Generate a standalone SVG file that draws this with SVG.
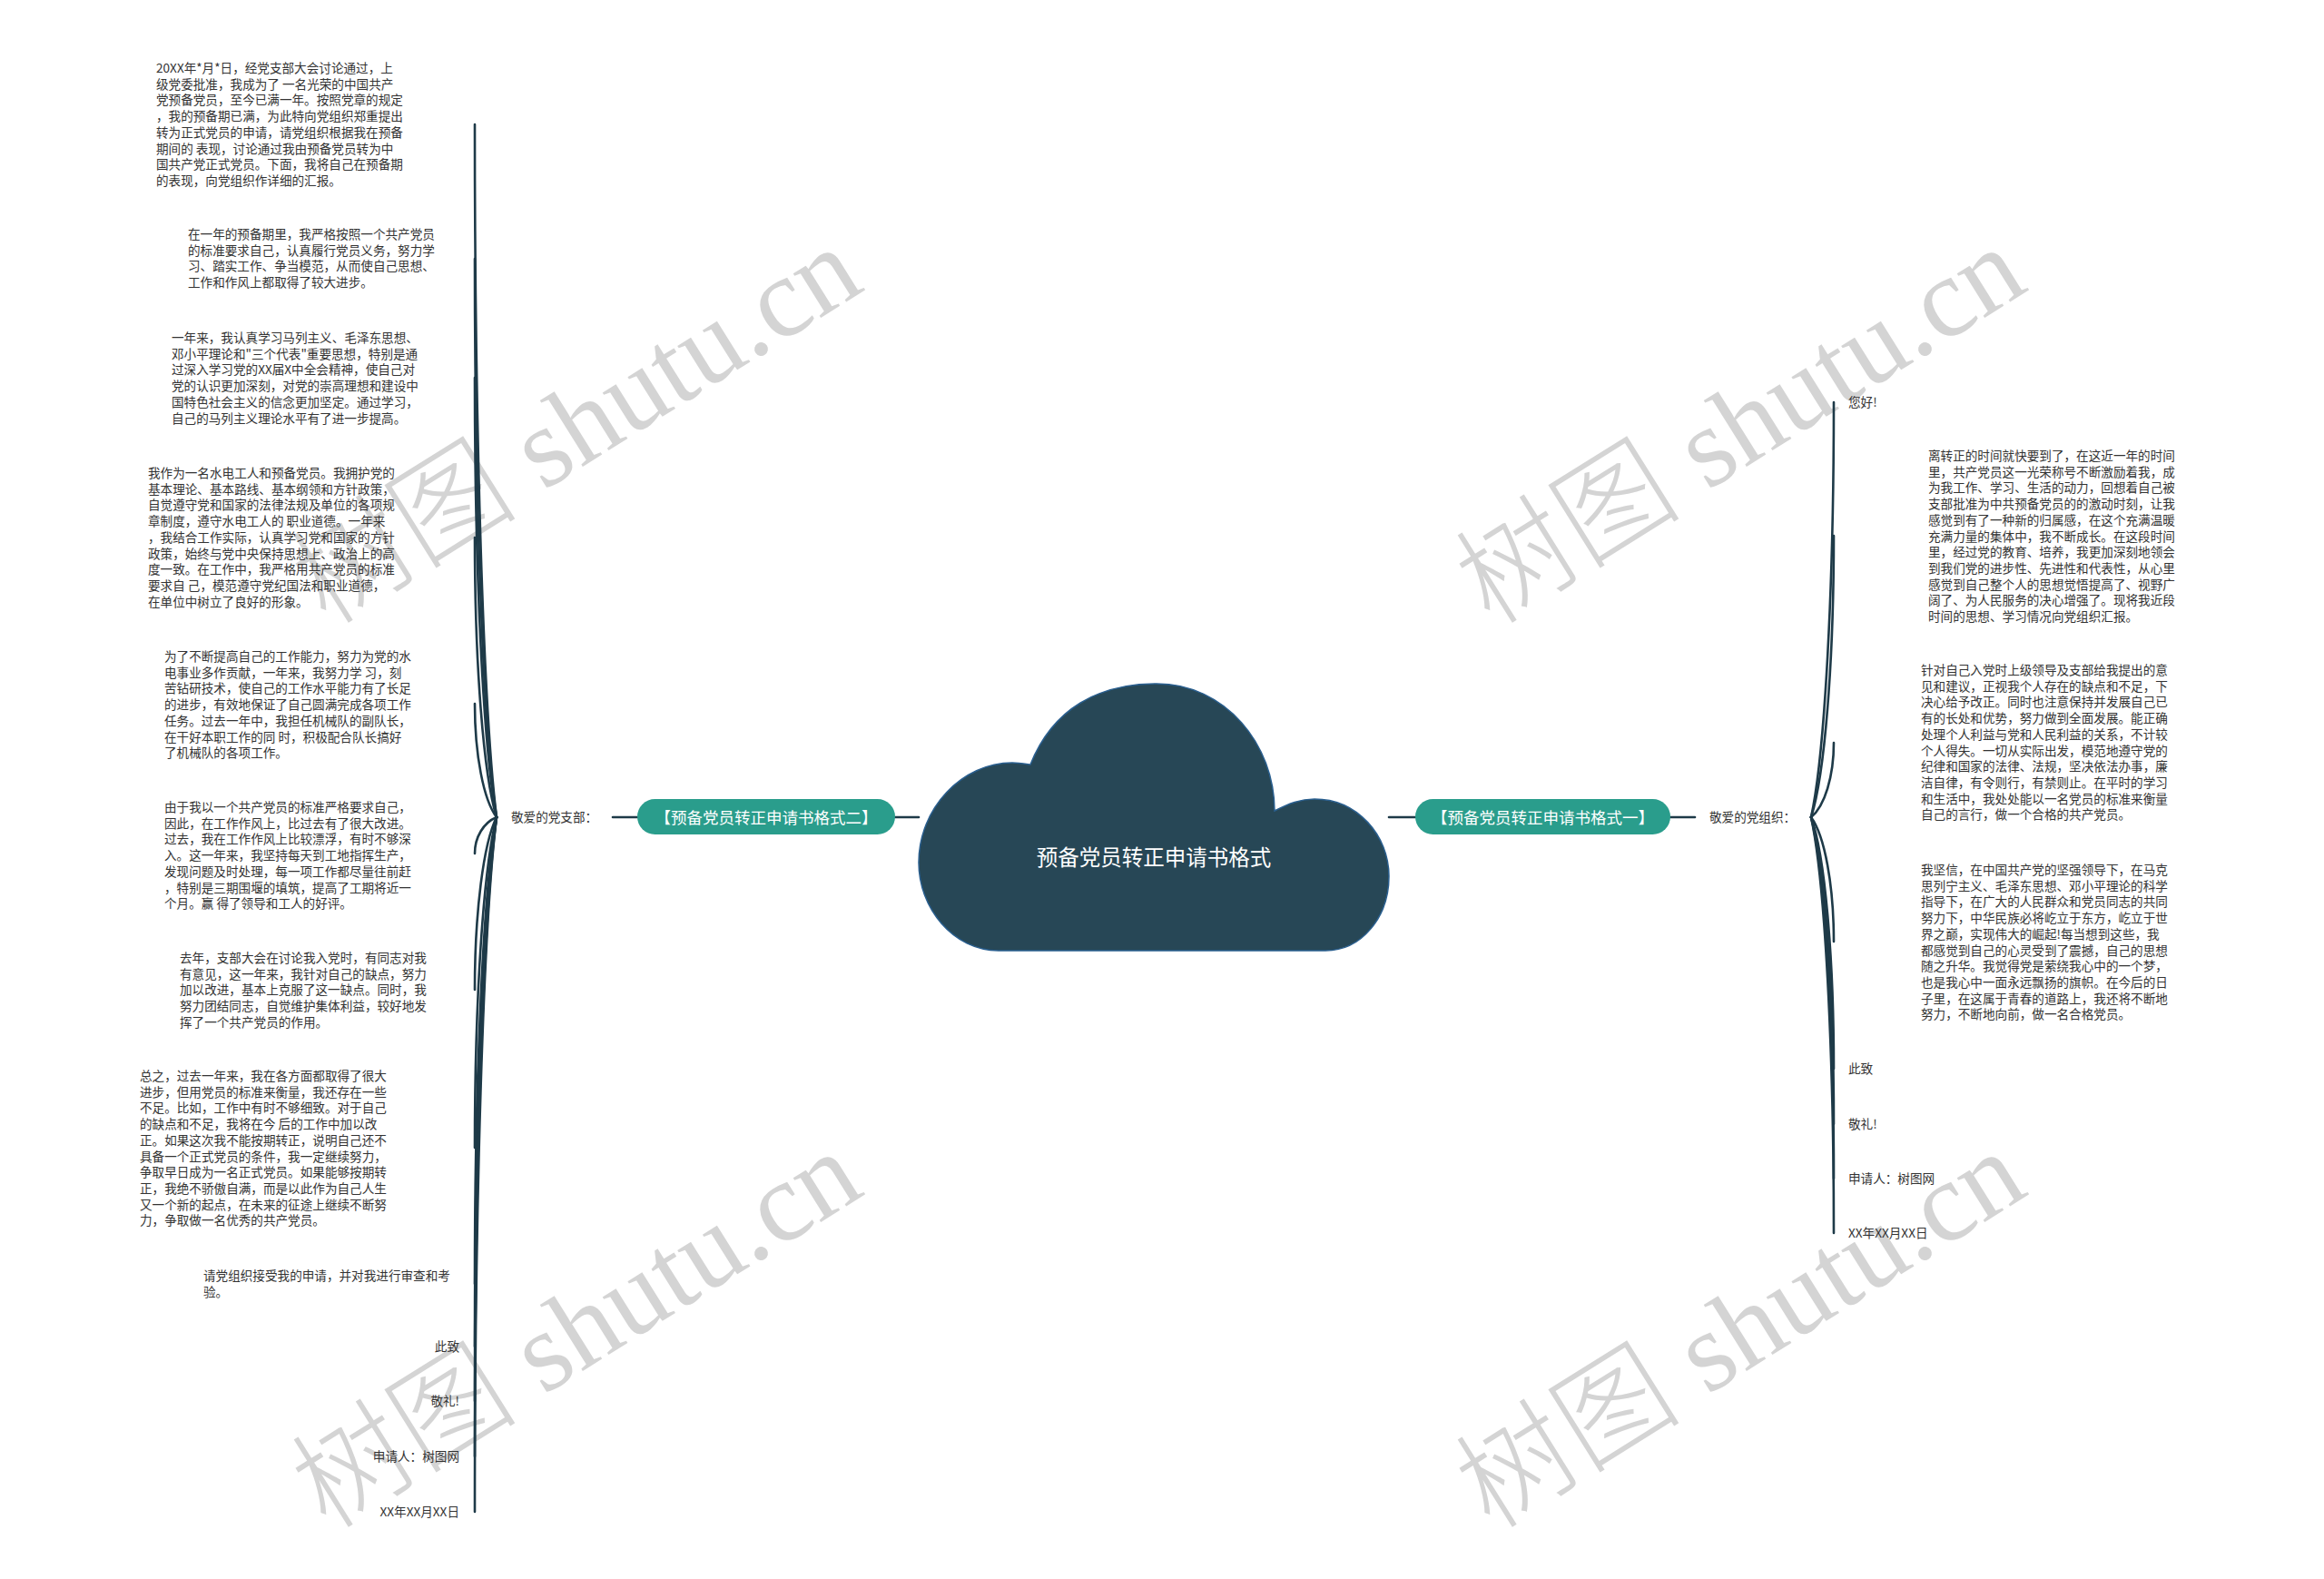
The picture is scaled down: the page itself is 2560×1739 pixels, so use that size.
<svg xmlns="http://www.w3.org/2000/svg" width="2560" height="1739" viewBox="0 0 2560 1739">
<style>
.t{font-family:"Noto Sans CJK SC","Noto Sans",sans-serif;font-size:13.6px;fill:#333333}
.r{text-anchor:end}
.pill{fill:#2a9d8c}
.pt{font-family:"Noto Sans CJK SC","Noto Sans",sans-serif;font-size:17.5px;fill:#ffffff;text-anchor:middle}
.ct{font-family:"Noto Sans CJK SC","Noto Sans",sans-serif;font-size:23.5px;fill:#ffffff;text-anchor:middle}
.c{fill:none;stroke:#1e3a48;stroke-width:2.6;stroke-linecap:round}
.wm{font-size:125px;fill:#d4d4d4}
.wc{font-family:"Noto Sans CJK SC",sans-serif;font-weight:300}
.ws{font-family:"Liberation Serif",serif}
</style>
<rect width="2560" height="1739" fill="#ffffff"/>
<g id="watermarks">
<text class="wm" transform="translate(360,690) rotate(-32)"><tspan class="wc">树图</tspan><tspan class="ws"> shutu.cn</tspan></text>
<text class="wm" transform="translate(1642,690) rotate(-32)"><tspan class="wc">树图</tspan><tspan class="ws"> shutu.cn</tspan></text>
<text class="wm" transform="translate(360,1686) rotate(-32)"><tspan class="wc">树图</tspan><tspan class="ws"> shutu.cn</tspan></text>
<text class="wm" transform="translate(1642,1686) rotate(-32)"><tspan class="wc">树图</tspan><tspan class="ws"> shutu.cn</tspan></text>
</g>
<g id="connectors">
<line class="c" x1="986" y1="900" x2="1012" y2="900"/>
<line class="c" x1="675" y1="900" x2="702" y2="900"/>
<line class="c" x1="1530" y1="900" x2="1559" y2="900"/>
<line class="c" x1="1840" y1="900" x2="1867" y2="900"/>
<path class="c" d="M547 900 C532.6 785.5 523 480 523 137"/>
<path class="c" d="M547 900 C532.6 808 523 562 523 285"/>
<path class="c" d="M547 900 C532.6 827 523 634 523 416"/>
<path class="c" d="M547 900 C532.6 854 523 731 523 592"/>
<path class="c" d="M547 900 C532.6 881 523 831 523 775"/>
<path class="c" d="M547 900 C532.6 906 523 922 523 940"/>
<path class="c" d="M547 900 C532.6 928.5 523 1004.5 523 1090"/>
<path class="c" d="M547 900 C532.6 954.6 523 1100 523 1264"/>
<path class="c" d="M547 900 C532.6 977 523 1183 523 1414"/>
<path class="c" d="M547 900 C532.6 987 523 1221 523 1483"/>
<path class="c" d="M547 900 C532.6 996 523 1254 523 1543"/>
<path class="c" d="M547 900 C532.6 1005.6 523 1287 523 1604"/>
<path class="c" d="M547 900 C532.6 1014.8 523 1321 523 1665"/>
<path class="c" d="M1995 900 C2010 831.5 2020 649 2020 443"/>
<path class="c" d="M1995 900 C2010 853.5 2020 729.5 2020 590"/>
<path class="c" d="M1995 900 C2010 887.7 2020 855 2020 818"/>
<path class="c" d="M1995 900 C2010 920.5 2020 975 2020 1037"/>
<path class="c" d="M1995 900 C2010 941.5 2020 1052 2020 1177"/>
<path class="c" d="M1995 900 C2010 950.7 2020 1086 2020 1238"/>
<path class="c" d="M1995 900 C2010 959.7 2020 1119 2020 1298"/>
<path class="c" d="M1995 900 C2010 968.7 2020 1152 2020 1358"/>
</g>
<g id="root">
<path d="M1135 842 C1160 780 1210 753 1274 753 C1350 753 1404 820 1404 893 C1420 885 1432 880 1448 880 C1495 880 1530 920 1530 965 C1530 1010 1500 1047 1460 1047 L1100 1047 C1050 1047 1012 1000 1012 950 C1012 890 1060 840 1115 840 C1122 840 1128 841 1135 842 Z" fill="#274756" stroke="#2a5f8f" stroke-width="1.5"/>
<text class="ct" x="1271" y="953">预备党员转正申请书格式</text>
</g>
<g id="branch-left">
<rect class="pill" x="702" y="880" width="284" height="39" rx="19.5"/>
<text class="pt" x="844" y="906.5">【预备党员转正申请书格式二】</text>
</g>
<g id="branch-right">
<rect class="pill" x="1559" y="880" width="281" height="39" rx="19.5"/>
<text class="pt" x="1699.5" y="906.5">【预备党员转正申请书格式一】</text>
</g>
<g id="label-left"><text class="t" x="563" y="905">敬爱的党支部：</text></g>
<g id="label-right"><text class="t" x="1883" y="905">敬爱的党组织：</text></g>
<g id="leaf-l1"><text class="t" x="172" y="80">
<tspan x="172">20XX年*月*日，经党支部大会讨论通过，上</tspan>
<tspan x="172" dy="17.7">级党委批准，我成为了 一名光荣的中国共产</tspan>
<tspan x="172" dy="17.7">党预备党员，至今已满一年。按照党章的规定</tspan>
<tspan x="172" dy="17.7">，我的预备期已满，为此特向党组织郑重提出</tspan>
<tspan x="172" dy="17.7">转为正式党员的申请，请党组织根据我在预备</tspan>
<tspan x="172" dy="17.7">期间的 表现，讨论通过我由预备党员转为中</tspan>
<tspan x="172" dy="17.7">国共产党正式党员。下面，我将自己在预备期</tspan>
<tspan x="172" dy="17.7">的表现，向党组织作详细的汇报。</tspan>
</text></g>
<g id="leaf-l2"><text class="t" x="207" y="263">
<tspan x="207">在一年的预备期里，我严格按照一个共产党员</tspan>
<tspan x="207" dy="17.7">的标准要求自己，认真履行党员义务，努力学</tspan>
<tspan x="207" dy="17.7">习、踏实工作、争当模范，从而使自己思想、</tspan>
<tspan x="207" dy="17.7">工作和作风上都取得了较大进步。</tspan>
</text></g>
<g id="leaf-l3"><text class="t" x="189" y="377">
<tspan x="189">一年来，我认真学习马列主义、毛泽东思想、</tspan>
<tspan x="189" dy="17.7">邓小平理论和"三个代表"重要思想，特别是通</tspan>
<tspan x="189" dy="17.7">过深入学习党的XX届X中全会精神，使自己对</tspan>
<tspan x="189" dy="17.7">党的认识更加深刻，对党的崇高理想和建设中</tspan>
<tspan x="189" dy="17.7">国特色社会主义的信念更加坚定。通过学习，</tspan>
<tspan x="189" dy="17.7">自己的马列主义理论水平有了进一步提高。</tspan>
</text></g>
<g id="leaf-l4"><text class="t" x="163" y="526">
<tspan x="163">我作为一名水电工人和预备党员。我拥护党的</tspan>
<tspan x="163" dy="17.7">基本理论、基本路线、基本纲领和方针政策，</tspan>
<tspan x="163" dy="17.7">自觉遵守党和国家的法律法规及单位的各项规</tspan>
<tspan x="163" dy="17.7">章制度，遵守水电工人的 职业道德。一年来</tspan>
<tspan x="163" dy="17.7">，我结合工作实际，认真学习党和国家的方针</tspan>
<tspan x="163" dy="17.7">政策，始终与党中央保持思想上、政治上的高</tspan>
<tspan x="163" dy="17.7">度一致。在工作中，我严格用共产党员的标准</tspan>
<tspan x="163" dy="17.7">要求自 己，模范遵守党纪国法和职业道德，</tspan>
<tspan x="163" dy="17.7">在单位中树立了良好的形象。</tspan>
</text></g>
<g id="leaf-l5"><text class="t" x="181" y="728">
<tspan x="181">为了不断提高自己的工作能力，努力为党的水</tspan>
<tspan x="181" dy="17.7">电事业多作贡献，一年来，我努力学 习，刻</tspan>
<tspan x="181" dy="17.7">苦钻研技术，使自己的工作水平能力有了长足</tspan>
<tspan x="181" dy="17.7">的进步，有效地保证了自己圆满完成各项工作</tspan>
<tspan x="181" dy="17.7">任务。过去一年中，我担任机械队的副队长，</tspan>
<tspan x="181" dy="17.7">在干好本职工作的同 时，积极配合队长搞好</tspan>
<tspan x="181" dy="17.7">了机械队的各项工作。</tspan>
</text></g>
<g id="leaf-l6"><text class="t" x="181" y="894">
<tspan x="181">由于我以一个共产党员的标准严格要求自己，</tspan>
<tspan x="181" dy="17.7">因此，在工作作风上，比过去有了很大改进。</tspan>
<tspan x="181" dy="17.7">过去，我在工作作风上比较漂浮，有时不够深</tspan>
<tspan x="181" dy="17.7">入。这一年来，我坚持每天到工地指挥生产，</tspan>
<tspan x="181" dy="17.7">发现问题及时处理，每一项工作都尽量往前赶</tspan>
<tspan x="181" dy="17.7">，特别是三期围堰的填筑，提高了工期将近一</tspan>
<tspan x="181" dy="17.7">个月。赢 得了领导和工人的好评。</tspan>
</text></g>
<g id="leaf-l7"><text class="t" x="198" y="1060">
<tspan x="198">去年，支部大会在讨论我入党时，有同志对我</tspan>
<tspan x="198" dy="17.7">有意见，这一年来，我针对自己的缺点，努力</tspan>
<tspan x="198" dy="17.7">加以改进，基本上克服了这一缺点。同时，我</tspan>
<tspan x="198" dy="17.7">努力团结同志，自觉维护集体利益，较好地发</tspan>
<tspan x="198" dy="17.7">挥了一个共产党员的作用。</tspan>
</text></g>
<g id="leaf-l8"><text class="t" x="154" y="1190">
<tspan x="154">总之，过去一年来，我在各方面都取得了很大</tspan>
<tspan x="154" dy="17.7">进步，但用党员的标准来衡量，我还存在一些</tspan>
<tspan x="154" dy="17.7">不足。比如，工作中有时不够细致。对于自己</tspan>
<tspan x="154" dy="17.7">的缺点和不足，我将在今 后的工作中加以改</tspan>
<tspan x="154" dy="17.7">正。如果这次我不能按期转正，说明自己还不</tspan>
<tspan x="154" dy="17.7">具备一个正式党员的条件，我一定继续努力，</tspan>
<tspan x="154" dy="17.7">争取早日成为一名正式党员。如果能够按期转</tspan>
<tspan x="154" dy="17.7">正，我绝不骄傲自满，而是以此作为自己人生</tspan>
<tspan x="154" dy="17.7">又一个新的起点，在未来的征途上继续不断努</tspan>
<tspan x="154" dy="17.7">力，争取做一名优秀的共产党员。</tspan>
</text></g>
<g id="leaf-l9"><text class="t" x="224" y="1410">
<tspan x="224">请党组织接受我的申请，并对我进行审查和考</tspan>
<tspan x="224" dy="17.7">验。</tspan>
</text></g>
<g id="leaf-l10"><text class="t r" x="506" y="1488">此致</text></g>
<g id="leaf-l11"><text class="t r" x="506" y="1548">敬礼!</text></g>
<g id="leaf-l12"><text class="t r" x="506" y="1609">申请人：树图网</text></g>
<g id="leaf-l13"><text class="t r" x="506" y="1670">XX年XX月XX日</text></g>
<g id="leaf-r1"><text class="t" x="2036" y="448">您好!</text></g>
<g id="leaf-r2"><text class="t" x="2124" y="507">
<tspan x="2124">离转正的时间就快要到了，在这近一年的时间</tspan>
<tspan x="2124" dy="17.7">里，共产党员这一光荣称号不断激励着我，成</tspan>
<tspan x="2124" dy="17.7">为我工作、学习、生活的动力，回想着自己被</tspan>
<tspan x="2124" dy="17.7">支部批准为中共预备党员的的激动时刻，让我</tspan>
<tspan x="2124" dy="17.7">感觉到有了一种新的归属感，在这个充满温暖</tspan>
<tspan x="2124" dy="17.7">充满力量的集体中，我不断成长。在这段时间</tspan>
<tspan x="2124" dy="17.7">里，经过党的教育、培养，我更加深刻地领会</tspan>
<tspan x="2124" dy="17.7">到我们党的进步性、先进性和代表性，从心里</tspan>
<tspan x="2124" dy="17.7">感觉到自己整个人的思想觉悟提高了、视野广</tspan>
<tspan x="2124" dy="17.7">阔了、为人民服务的决心增强了。现将我近段</tspan>
<tspan x="2124" dy="17.7">时间的思想、学习情况向党组织汇报。</tspan>
</text></g>
<g id="leaf-r3"><text class="t" x="2116" y="743">
<tspan x="2116">针对自己入党时上级领导及支部给我提出的意</tspan>
<tspan x="2116" dy="17.7">见和建议，正视我个人存在的缺点和不足，下</tspan>
<tspan x="2116" dy="17.7">决心给予改正。同时也注意保持并发展自己已</tspan>
<tspan x="2116" dy="17.7">有的长处和优势，努力做到全面发展。能正确</tspan>
<tspan x="2116" dy="17.7">处理个人利益与党和人民利益的关系，不计较</tspan>
<tspan x="2116" dy="17.7">个人得失。一切从实际出发，模范地遵守党的</tspan>
<tspan x="2116" dy="17.7">纪律和国家的法律、法规，坚决依法办事，廉</tspan>
<tspan x="2116" dy="17.7">洁自律，有令则行，有禁则止。在平时的学习</tspan>
<tspan x="2116" dy="17.7">和生活中，我处处能以一名党员的标准来衡量</tspan>
<tspan x="2116" dy="17.7">自己的言行，做一个合格的共产党员。</tspan>
</text></g>
<g id="leaf-r4"><text class="t" x="2116" y="963">
<tspan x="2116">我坚信，在中国共产党的坚强领导下，在马克</tspan>
<tspan x="2116" dy="17.7">思列宁主义、毛泽东思想、邓小平理论的科学</tspan>
<tspan x="2116" dy="17.7">指导下，在广大的人民群众和党员同志的共同</tspan>
<tspan x="2116" dy="17.7">努力下，中华民族必将屹立于东方，屹立于世</tspan>
<tspan x="2116" dy="17.7">界之巅，实现伟大的崛起!每当想到这些，我</tspan>
<tspan x="2116" dy="17.7">都感觉到自己的心灵受到了震撼，自己的思想</tspan>
<tspan x="2116" dy="17.7">随之升华。我觉得党是萦绕我心中的一个梦，</tspan>
<tspan x="2116" dy="17.7">也是我心中一面永远飘扬的旗帜。在今后的日</tspan>
<tspan x="2116" dy="17.7">子里，在这属于青春的道路上，我还将不断地</tspan>
<tspan x="2116" dy="17.7">努力，不断地向前，做一名合格党员。</tspan>
</text></g>
<g id="leaf-r5"><text class="t" x="2036" y="1182">此致</text></g>
<g id="leaf-r6"><text class="t" x="2036" y="1243">敬礼!</text></g>
<g id="leaf-r7"><text class="t" x="2036" y="1303">申请人：树图网</text></g>
<g id="leaf-r8"><text class="t" x="2036" y="1363">XX年XX月XX日</text></g>
</svg>
